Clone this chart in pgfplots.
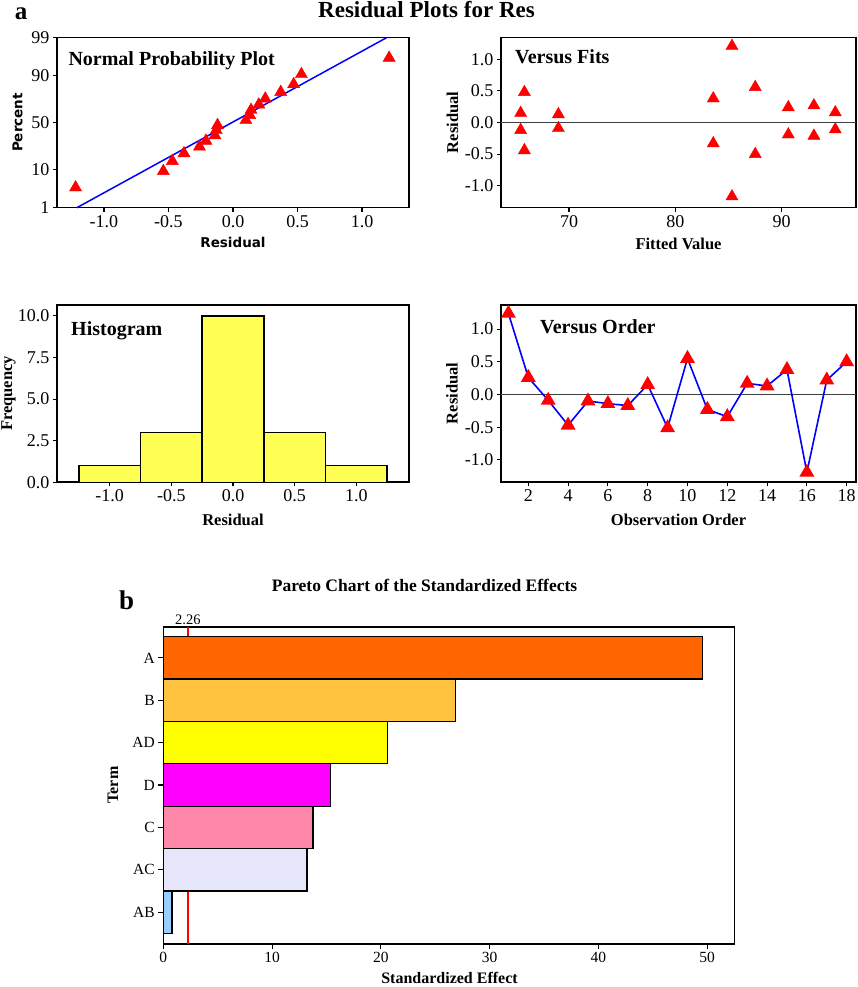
\documentclass[border=0pt]{standalone}
\usepackage{pgfplots}
\pgfplotsset{compat=1.18}
\usepackage{fontspec}
\setmainfont{Liberation Serif}
\newfontfamily\vsans{DejaVu Sans}
\definecolor{histy}{RGB}{255,255,85}
\definecolor{barA}{RGB}{255,102,0}
\definecolor{barB}{RGB}{255,195,64}
\definecolor{barAD}{RGB}{255,255,0}
\definecolor{barD}{RGB}{255,0,255}
\definecolor{barC}{RGB}{255,136,170}
\definecolor{barAC}{RGB}{230,230,250}
\definecolor{barAB}{RGB}{153,204,255}
\definecolor{refred}{RGB}{255,0,0}
\pgfplotsset{
  minitab/.style={
    scale only axis, anchor=south west, clip=false,
    axis line style={line width=1.6pt},
    tick align=outside, tick pos=left,
    major tick length=4pt,
    every tick/.style={black, line width=1.1pt},
    tick label style={font=\fontsize{18}{20}\selectfont},
    /pgf/number format/assume math mode=true,
  },
  onedec/.style={/pgf/number format/.cd, fixed, fixed zerofill, precision=1},
  tri/.style={only marks, mark=triangle*, mark size=7pt, mark options={draw=red, fill=red}},
}
\begin{document}
\begin{tikzpicture}
\useasboundingbox (0,0) rectangle (857pt,987pt);
% ---------- Panel 1: normal probability ----------
\begin{axis}[minitab, at={(57pt,779.3pt)}, width=352pt, height=170pt,
  xmin=-1.364, xmax=1.364, ymin=-2.326, ymax=2.326,
  xtick={-1,-0.5,0,0.5,1}, xticklabel style={onedec},
  ytick={-2.326,-1.2816,0,1.2816,2.326}, yticklabels={1,10,50,90,99}]
\addplot[blue, line width=1.5pt] coordinates {(-1.21,-2.326) (1.19,2.326)};
\addplot[tri] coordinates {
(-1.22,-1.774) (-0.54,-1.326) (-0.47,-1.051) (-0.38,-0.838) (-0.26,-0.657) (-0.21,-0.496)
(-0.14,-0.348) (-0.13,-0.206) (-0.12,-0.068) (0.10,0.068) (0.13,0.206) (0.14,0.348)
(0.20,0.496) (0.25,0.657) (0.37,0.838) (0.47,1.051) (0.53,1.326) (1.21,1.774)};
\end{axis}
% ---------- Panel 2: versus fits ----------
\begin{axis}[minitab, at={(501pt,779.3pt)}, width=355pt, height=170pt,
  xmin=63.6, xmax=97.0, ymin=-1.347, ymax=1.342,
  xtick={70,80,90}, ytick={-1,-0.5,0,0.5,1}, yticklabel style={onedec}]
\addplot[black!75, line width=1.4pt] coordinates {(63.6,0) (97.0,0)};
\addplot[tri] coordinates {
(65.45,0.15) (65.45,-0.12) (65.8,0.48) (65.8,-0.44) (69.0,0.13) (69.0,-0.09)
(83.57,0.38) (83.57,-0.33) (85.33,1.21) (85.33,-1.17) (87.52,0.56) (87.52,-0.50)
(90.63,0.24) (90.63,-0.19) (93.04,0.27) (93.04,-0.21) (95.05,0.16) (95.05,-0.11)};
\end{axis}
% ---------- Panel 3: histogram ----------
\begin{axis}[minitab, at={(57pt,504.7pt)}, width=352pt, height=177pt,
  xmin=-1.427, xmax=1.427, ymin=0, ymax=10.64,
  xtick={-1,-0.5,0,0.5,1}, xticklabel style={onedec},
  ytick={0,2.5,5,7.5,10}, yticklabel style={onedec}]
\addplot[ybar, bar width=0.5, bar shift=0, fill=histy, draw=black, line width=1.4pt]
  coordinates {(-1,1) (-0.5,3) (0,10) (0.5,3) (1,1)};
\end{axis}
% ---------- Panel 4: versus order ----------
\begin{axis}[minitab, at={(501pt,504.7pt)}, width=355pt, height=177pt,
  xmin=0.627, xmax=18.47, ymin=-1.343, ymax=1.364,
  xtick={2,4,...,18}, ytick={-1,-0.5,0,0.5,1}, yticklabel style={onedec}]
\addplot[black!75, line width=1.4pt] coordinates {(0.627,0) (18.47,0)};
\addplot[blue, line width=1.6pt, mark=triangle*, mark size=7pt, mark options={draw=red, fill=red}] coordinates {
(1,1.24) (2,0.26) (3,-0.09) (4,-0.47) (5,-0.10) (6,-0.14) (7,-0.17) (8,0.15) (9,-0.51)
(10,0.55) (11,-0.23) (12,-0.34) (13,0.17) (14,0.13) (15,0.38) (16,-1.19) (17,0.22) (18,0.50)};
\end{axis}
% ---------- Pareto chart ----------
\begin{axis}[minitab, at={(163.3pt,43pt)}, width=571pt, height=317.3pt,
  xmin=0, xmax=52.5, ymin=-0.752, ymax=6.736,
  xtick={0,10,...,50}, ytick={0,...,6}, yticklabels={AB,AC,C,D,AD,B,A},
  xticklabel style={font=\fontsize{15.5}{17}\selectfont},
  yticklabel style={font=\fontsize{15.5}{17}\selectfont},
  major tick length=5pt]
\addplot[draw=refred, color=refred, line width=1.3pt] coordinates {(2.26,-0.752) (2.26,6.736)};
\addplot[xbar, bar width=1, bar shift=0, fill=barA, draw=black, line width=1.3pt] coordinates {(49.6,6)};
\addplot[xbar, bar width=1, bar shift=0, fill=barB, draw=black, line width=1.3pt] coordinates {(26.85,5)};
\addplot[xbar, bar width=1, bar shift=0, fill=barAD, draw=black, line width=1.3pt] coordinates {(20.6,4)};
\addplot[xbar, bar width=1, bar shift=0, fill=barD, draw=black, line width=1.3pt] coordinates {(15.4,3)};
\addplot[xbar, bar width=1, bar shift=0, fill=barC, draw=black, line width=1.3pt] coordinates {(13.75,2)};
\addplot[xbar, bar width=1, bar shift=0, fill=barAC, draw=black, line width=1.3pt] coordinates {(13.2,1)};
\addplot[xbar, bar width=1, bar shift=0, fill=barAB, draw=black, line width=1.3pt] coordinates {(0.8,0)};
\node[anchor=south, font=\fontsize{14.5}{16}\selectfont, inner sep=2pt] at (axis cs:2.26,6.736) {2.26};
\end{axis}
% ---------- Texts ----------
\node[anchor=base, inner sep=0pt, font=\bfseries\fontsize{25}{27}\selectfont] at (21pt,967pt) {a};
\node[anchor=base, inner sep=0pt, font=\bfseries\fontsize{23}{25}\selectfont] at (426.5pt,969.5pt) {Residual Plots for Res};
\node[anchor=base west, inner sep=0pt, font=\bfseries\fontsize{20}{22}\selectfont] at (68.3pt,921.3pt) {Normal Probability Plot};
\node[anchor=base west, inner sep=0pt, font=\bfseries\fontsize{20}{22}\selectfont] at (515pt,923pt) {Versus Fits};
\node[anchor=base west, inner sep=0pt, font=\bfseries\fontsize{20}{22}\selectfont] at (71pt,651.3pt) {Histogram};
\node[anchor=base west, inner sep=0pt, font=\bfseries\fontsize{20}{22}\selectfont] at (540pt,653pt) {Versus Order};
\node[rotate=90, inner sep=0pt, font=\vsans\bfseries\fontsize{13.5}{15}\selectfont] at (17.5pt,864.5pt) {Percent};
\node[anchor=base, inner sep=0pt, font=\vsans\bfseries\fontsize{13.5}{15}\selectfont] at (233pt,739pt) {Residual};
\node[rotate=90, inner sep=0pt, font=\bfseries\fontsize{16.5}{18}\selectfont] at (452.5pt,864.5pt) {Residual};
\node[anchor=base, inner sep=0pt, font=\bfseries\fontsize{16.5}{18}\selectfont] at (678.5pt,737.5pt) {Fitted Value};
\node[rotate=90, inner sep=0pt, font=\bfseries\fontsize{16.5}{18}\selectfont] at (8.5pt,593.5pt) {Frequency};
\node[anchor=base, inner sep=0pt, font=\bfseries\fontsize{16.5}{18}\selectfont] at (233pt,461pt) {Residual};
\node[rotate=90, inner sep=0pt, font=\bfseries\fontsize{16.5}{18}\selectfont] at (452pt,593.5pt) {Residual};
\node[anchor=base, inner sep=0pt, font=\bfseries\fontsize{16.5}{18}\selectfont] at (678.5pt,461pt) {Observation Order};
\node[anchor=base, inner sep=0pt, font=\bfseries\fontsize{27}{29}\selectfont] at (126.7pt,377.7pt) {b};
\node[anchor=base, inner sep=0pt, font=\bfseries\fontsize{17.5}{19}\selectfont] at (424.5pt,395.3pt) {Pareto Chart of the Standardized Effects};
\node[rotate=90, inner sep=0pt, font=\bfseries\fontsize{16}{18}\selectfont] at (113pt,202pt) {Term};
\node[anchor=base, inner sep=0pt, font=\bfseries\fontsize{16}{18}\selectfont] at (449.5pt,3.5pt) {Standardized Effect};
\end{tikzpicture}
\end{document}
